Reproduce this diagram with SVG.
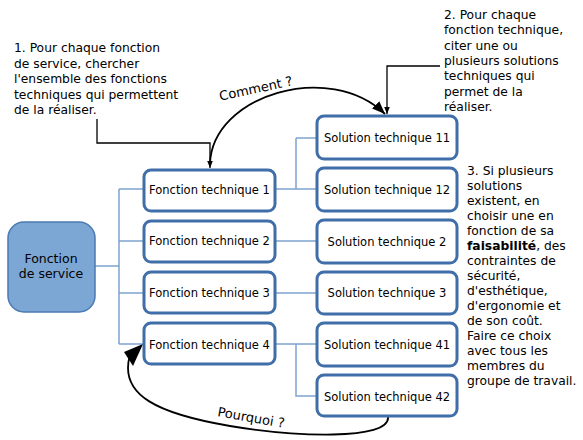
<svg xmlns="http://www.w3.org/2000/svg" width="583" height="440" viewBox="0 0 583 440">
<defs>
<style>
text{font-family:"DejaVu Sans","Liberation Sans",sans-serif;fill:#000}
.lbl{font-size:12.3px}
.box{font-size:11.5px;text-anchor:middle}
.ft,.st{fill:#fff;stroke:#3f6ea9;stroke-width:3}
.tree{fill:none;stroke:#7fa4d0;stroke-width:1.5}
.blk{fill:none;stroke:#000;stroke-width:1.3}
.crv{fill:none;stroke:#000;stroke-width:1.8}
</style>
<marker id="ah" viewBox="0 0 10 10" refX="10" refY="5" markerWidth="7" markerHeight="7" orient="auto" markerUnits="userSpaceOnUse"><path d="M0,1 L10,5 L0,9 z" fill="#000"/></marker>
<marker id="ahb" viewBox="0 0 10 10" refX="10" refY="5" markerWidth="13" markerHeight="13" orient="auto" markerUnits="userSpaceOnUse"><path d="M0,1 L10,5 L0,9 z" fill="#000"/></marker>
</defs>
<rect width="583" height="440" fill="#fff"/>

<g id="connectors">
<path class="tree" d="M95,266 H119 M119,189 V344 M119,189 H144 M119,241 H144 M119,293 H144 M119,344 H144"/>
<path class="tree" d="M275,189 H317 M296,138 V189 M296,138 H317 M275,241 H317 M275,293 H317 M275,344 H317 M296,344 V396 H317"/>
<path class="blk" d="M97,119 V143 H210 V168" marker-end="url(#ah)"/>
<path class="blk" d="M440,66 H387 V114" marker-end="url(#ah)"/>
<path class="crv" d="M210,164 C212,95 330,60 385,114" marker-end="url(#ahb)"/>
<path class="crv" d="M388,416 C392,442 290,436 230,426 C160,414 118,396 130,355" />
<path d="M143,344 L124,352 L133,366 z" fill="#000"/>
</g>

<g id="fonction-service">
<rect x="8" y="222" width="87" height="90" rx="16" fill="#7ca6d4" stroke="#4b79b3" stroke-width="1.5"/>
<text class="box" x="51" y="263" style="font-size:12.5px">Fonction</text>
<text class="box" x="51" y="278" style="font-size:12.5px">de service</text>
</g>

<g id="ft1"><rect class="ft" x="144" y="170" width="131" height="41" rx="7"/><text class="box" x="209.5" y="194">Fonction technique 1</text></g>
<g id="ft2"><rect class="ft" x="144" y="221" width="131" height="41" rx="7"/><text class="box" x="209.5" y="245">Fonction technique 2</text></g>
<g id="ft3"><rect class="ft" x="144" y="272" width="131" height="41" rx="7"/><text class="box" x="209.5" y="297">Fonction technique 3</text></g>
<g id="ft4"><rect class="ft" x="144" y="323" width="131" height="41" rx="7"/><text class="box" x="209.5" y="349">Fonction technique 4</text></g>

<g id="st11"><rect class="st" x="317" y="116" width="140" height="43" rx="7"/><text class="box" x="387" y="142">Solution technique 11</text></g>
<g id="st12"><rect class="st" x="317" y="168" width="140" height="43" rx="7"/><text class="box" x="387" y="194">Solution technique 12</text></g>
<g id="st2"><rect class="st" x="317" y="220" width="140" height="43" rx="7"/><text class="box" x="387" y="246">Solution technique 2</text></g>
<g id="st3"><rect class="st" x="317" y="272" width="140" height="42" rx="7"/><text class="box" x="387" y="297">Solution technique 3</text></g>
<g id="st41"><rect class="st" x="317" y="323" width="140" height="43" rx="7"/><text class="box" x="387" y="349">Solution technique 41</text></g>
<g id="st42"><rect class="st" x="317" y="375" width="140" height="41" rx="7"/><text class="box" x="387" y="401">Solution technique 42</text></g>

<g id="note1" class="lbl">
<text x="14" y="52">1. Pour chaque fonction</text>
<text x="14" y="67.5">de service, chercher</text>
<text x="14" y="83">l'ensemble des fonctions</text>
<text x="14" y="98.5">techniques qui permettent</text>
<text x="14" y="114">de la réaliser.</text>
</g>
<g id="note2" class="lbl">
<text x="444" y="19">2. Pour chaque</text>
<text x="444" y="34.3">fonction technique,</text>
<text x="444" y="49.6">citer une ou</text>
<text x="444" y="64.9">plusieurs solutions</text>
<text x="444" y="80.2">techniques qui</text>
<text x="444" y="95.5">permet de la</text>
<text x="444" y="110.8">réaliser.</text>
</g>
<g id="note3" class="lbl">
<text x="467" y="175">3. Si plusieurs</text>
<text x="467" y="190">solutions</text>
<text x="467" y="205">existent, en</text>
<text x="467" y="220">choisir une en</text>
<text x="467" y="235">fonction de sa</text>
<text x="467" y="250"><tspan font-weight="bold">faisabilité</tspan>, des</text>
<text x="467" y="265">contraintes de</text>
<text x="467" y="280">sécurité,</text>
<text x="467" y="295">d'esthétique,</text>
<text x="467" y="310">d'ergonomie et</text>
<text x="467" y="325">de son coût.</text>
<text x="467" y="340">Faire ce choix</text>
<text x="467" y="355">avec tous les</text>
<text x="467" y="370">membres du</text>
<text x="467" y="385">groupe de travail.</text>
</g>
<text x="256" y="93" style="font-size:13px;text-anchor:middle" transform="rotate(-12 256 89)">Comment ?</text>
<text x="251" y="422" style="font-size:13px;text-anchor:middle" transform="rotate(10 251 418)">Pourquoi ?</text>
</svg>
